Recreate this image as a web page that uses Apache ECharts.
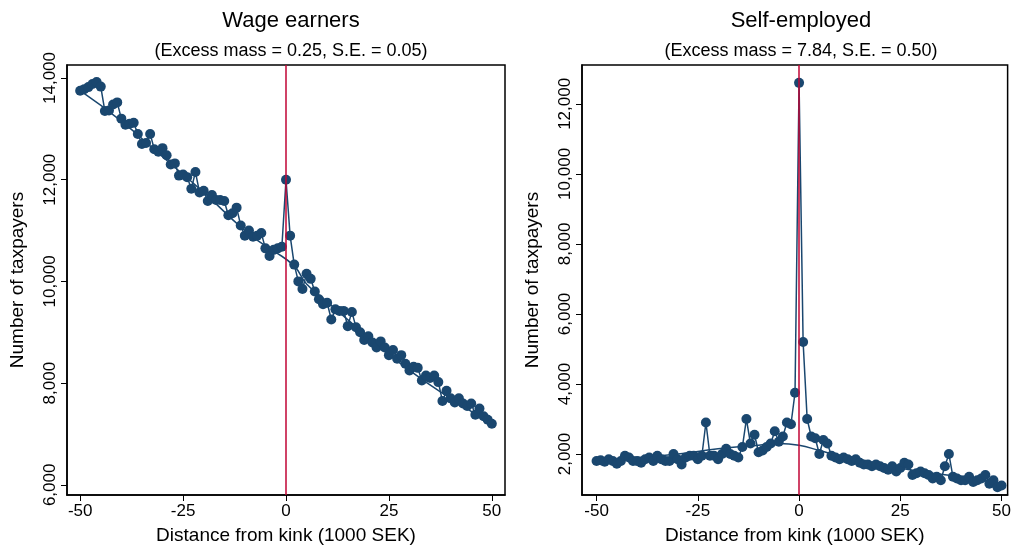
<!DOCTYPE html>
<html>
<head>
<meta charset="UTF-8">
<script src="https://cdn.jsdelivr.net/npm/echarts@6/dist/echarts.min.js"></script>
<style>body{margin:0;background:#fff}#c{width:1014px;height:557px}</style>
</head>
<body>
<div id="c"></div>
<script>
// bins: distance from kink, 1000 SEK
var bins = [];
for (var i = -50; i <= 50; i++) bins.push(i);

var wageCounts = [13750,13780,13820,13880,13920,13830,13350,13360,13480,13520,
  13200,13080,13100,13120,12900,12700,12720,12900,12600,12550,
  12620,12480,12300,12320,12080,12100,12050,11820,12150,11750,
  11780,11580,11700,11600,11600,11580,11300,11340,11450,11100,
  10900,11000,10880,10900,10950,10650,10500,10620,10650,10680,
  12000,
  10900,10330,10000,9850,10150,10050,9800,9650,9550,9580,
  9250,9450,9420,9420,9120,9400,9100,9000,8850,8920,
  8800,8700,8820,8700,8550,8650,8480,8550,8380,8250,
  8320,8300,8050,8150,8100,8150,8020,7650,7850,7700,
  7620,7700,7600,7550,7600,7380,7500,7350,7280,7200];

var wageCfX = [-50,-40,-30,-20,-10,-5,-3,2,5,10,20,30,40,50];
var wageCfY = [13750,13150,12450,11750,11000,10700,10600,10300,9950,9600,8900,8250,7700,7200];

var selfCounts = [1800,1820,1780,1850,1800,1720,1800,1950,1900,1800,
  1800,1750,1850,1900,1800,1950,1850,1800,1800,2000,
  1850,1700,1900,1950,1950,1850,1950,2900,1950,1950,
  1850,2000,2150,2000,1950,1900,2200,3000,2300,2550,
  2050,2100,2200,2300,2650,2350,2500,2900,2850,3750,
  12600,
  5200,3000,2500,2450,2000,2400,2300,1950,1900,1850,
  1900,1850,1800,1850,1750,1700,1700,1650,1700,1650,
  1600,1550,1650,1500,1600,1750,1700,1400,1450,1500,
  1450,1400,1300,1350,1250,1650,2000,1350,1300,1250,
  1250,1350,1200,1250,1300,1400,1150,1250,1050,1100];

var selfCfX = [-50,-40,-30,-20,-10,-5,0,5,10,20,30,40,50];
var selfCfY = [1800,1900,2000,2150,2250,2300,2250,2100,1950,1700,1500,1350,1150];

var xTicks = [-50, -25, 0, 25, 50];
var wageYTicks = [6000, 8000, 10000, 12000, 14000];
var selfYTicks = [2000, 4000, 6000, 8000, 10000, 12000];

var blue = '#1a476f', red = '#c10534';
var font = 'Liberation Sans';

function pairs(xs, ys) { return xs.map(function (x, i) { return [x, ys[i]]; }); }

function xAxis(idx, min, max) {
  return {
    type: 'value', gridIndex: idx, min: min, max: max,
    name: 'Distance from kink (1000 SEK)', nameLocation: 'middle', nameGap: 31,
    nameTextStyle: {fontFamily: font, fontSize: 19, color: '#000'},
    axisLine: {show: true, onZero: false, lineStyle: {color: '#000', width: 1.5}},
    axisTick: {show: true, customValues: xTicks, length: 6, lineStyle: {color: '#000'}},
    axisLabel: {customValues: xTicks, fontFamily: font, fontSize: 17, color: '#000', margin: 8},
    splitLine: {show: false}
  };
}
function yAxis(idx, min, max, ticks) {
  return {
    type: 'value', gridIndex: idx, min: min, max: max,
    name: 'Number of taxpayers', nameLocation: 'middle', nameGap: 40,
    nameTextStyle: {fontFamily: font, fontSize: 19, color: '#000'},
    axisLine: {show: true, onZero: false, lineStyle: {color: '#000', width: 1.5}},
    axisTick: {show: true, customValues: ticks, length: 6, lineStyle: {color: '#000'}},
    axisLabel: {customValues: ticks, rotate: 90, fontFamily: font, fontSize: 17, color: '#000', margin: 8,
      formatter: function (v) { return v.toLocaleString('en-US'); }},
    splitLine: {show: false}
  };
}
function dots(idx, data) {
  return {
    type: 'line', xAxisIndex: idx, yAxisIndex: idx, data: pairs(bins, data),
    symbol: 'circle', symbolSize: 10, itemStyle: {color: blue}, lineStyle: {color: blue, width: 1.5},
    z: 3
  };
}
function cf(idx, xs, ys) {
  return {type: 'line', xAxisIndex: idx, yAxisIndex: idx, data: pairs(xs, ys), smooth: true,
    showSymbol: false, lineStyle: {color: blue, width: 1.5}, z: 2,
    markLine: {silent: true, symbol: 'none', label: {show: false},
      lineStyle: {color: red, width: 1.5, type: 'solid'}, data: [{xAxis: 0}]}};
}

var chart = echarts.init(document.getElementById('c'));
chart.setOption({
  animation: false,
  title: [
    {text: 'Wage earners', left: 286, top: 5, textAlign: 'center',
      textStyle: {fontFamily: font, fontSize: 22, fontWeight: 'normal', color: '#000'}},
    {text: '(Excess mass = 0.25, S.E. = 0.05)', left: 286, top: 37, textAlign: 'center',
      textStyle: {fontFamily: font, fontSize: 18, fontWeight: 'normal', color: '#000'}},
    {text: 'Self-employed', left: 796, top: 5, textAlign: 'center',
      textStyle: {fontFamily: font, fontSize: 22, fontWeight: 'normal', color: '#000'}},
    {text: '(Excess mass = 7.84, S.E. = 0.50)', left: 796, top: 37, textAlign: 'center',
      textStyle: {fontFamily: font, fontSize: 18, fontWeight: 'normal', color: '#000'}}
  ],
  grid: [
    {left: 67, width: 438, top: 65, height: 430, show: true, borderColor: '#000', borderWidth: 1.5},
    {left: 582, width: 428, top: 65, height: 430, show: true, borderColor: '#000', borderWidth: 1.5}
  ],
  xAxis: [xAxis(0, -53.2, 53.2), xAxis(1, -53.6, 51.5)],
  yAxis: [yAxis(0, 5800, 14255, wageYTicks), yAxis(1, 830, 13110, selfYTicks)],
  series: [
    cf(0, wageCfX, wageCfY), dots(0, wageCounts),
    cf(1, selfCfX, selfCfY), dots(1, selfCounts)
  ]
});
</script>
</body>
</html>
